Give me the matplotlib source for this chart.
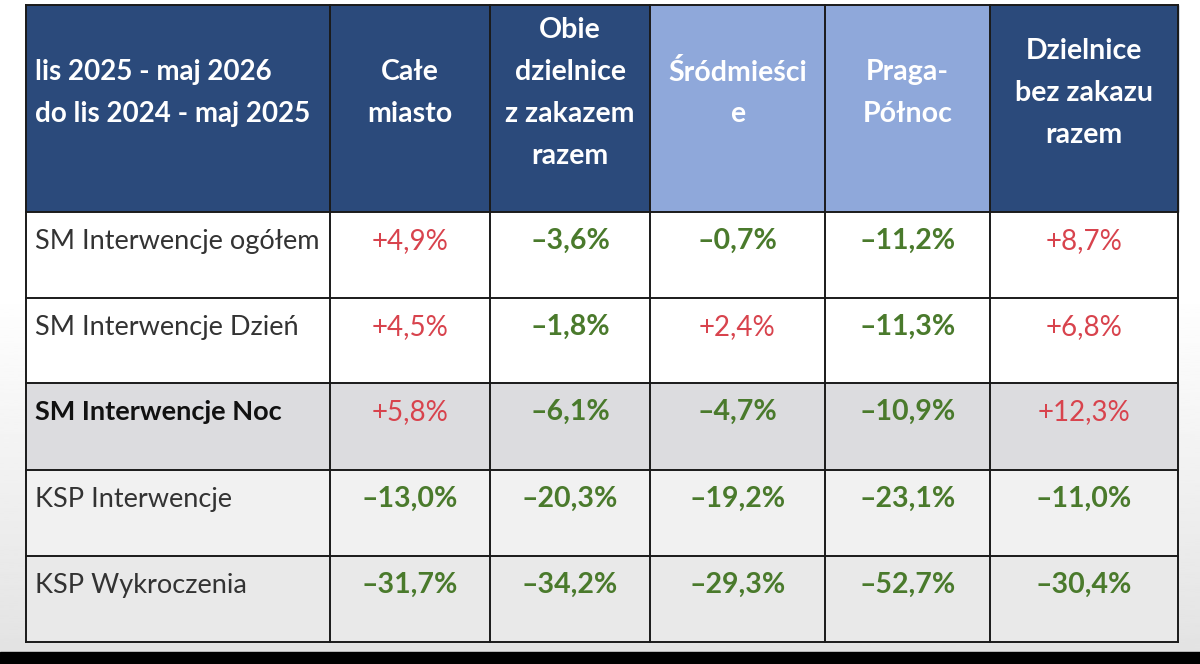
import numpy as np
import matplotlib.pyplot as plt
from matplotlib.patches import Rectangle

# table content
corner = "lis 2025 - maj 2026\ndo lis 2024 - maj 2025"
columns = ["Całe\nmiasto", "Obie\ndzielnice\nz zakazem\nrazem", "Śródmieści\ne",
           "Praga-\nPółnoc", "Dzielnice\nbez zakazu\nrazem"]
highlight_cols = [False, False, True, True, False]
row_labels = ["SM Interwencje ogółem", "SM Interwencje Dzień", "SM Interwencje Noc",
              "KSP Interwencje", "KSP Wykroczenia"]
values = [
    [4.9, -3.6, -0.7, -11.2, 8.7],
    [4.5, -1.8, 2.4, -11.3, 6.8],
    [5.8, -6.1, -4.7, -10.9, 12.3],
    [-13.0, -20.3, -19.2, -23.1, -11.0],
    [-31.7, -34.2, -29.3, -52.7, -30.4],
]
bold_row = 2

# layout (pixels)
W, H = 1200, 664
col_edges = [26, 330, 490, 650, 825, 990, 1178]
row_edges = [5, 212, 298, 383, 470, 556, 642]
row_bg = ["white", "white", "white", "#dcdcdf", "#f1f1f1", "#e9e9e9"]

NAVY = "#2b4a7b"
LIGHT = "#8fa8da"
RED = "#d8434d"
GREEN = "#4a7a2c"
FS = 19.5

plt.rcParams['font.family'] = ['Lato', 'DejaVu Sans']

fig = plt.figure(figsize=(12, 6.64), dpi=100)
ax = fig.add_axes([0, 0, 1, 1])
ax.set_xlim(0, W)
ax.set_ylim(H, 0)
ax.axis("off")

# soft background, white at top fading to light grey
grad = np.linspace(0, 1, 256).reshape(-1, 1)
grad = np.clip((grad - 0.45) / 0.55, 0, 1)
ax.imshow(1 - 0.11 * grad, cmap="gray", vmin=0, vmax=1, aspect="auto",
          extent=(0, W, 652, 0), zorder=0)
ax.add_patch(Rectangle((0, 652), W, H - 652, color="black", zorder=1))

# header cells
ax.add_patch(Rectangle((col_edges[0], row_edges[0]), col_edges[1] - col_edges[0],
                       row_edges[1] - row_edges[0], color=NAVY, zorder=2))
for j, hl in enumerate(highlight_cols):
    x0, x1 = col_edges[j + 1], col_edges[j + 2]
    ax.add_patch(Rectangle((x0, row_edges[0]), x1 - x0, row_edges[1] - row_edges[0],
                           color=LIGHT if hl else NAVY, zorder=2))

# body rows
for i in range(len(row_labels)):
    y0, y1 = row_edges[i + 1], row_edges[i + 2]
    ax.add_patch(Rectangle((col_edges[0], y0), col_edges[-1] - col_edges[0], y1 - y0,
                           color=row_bg[i + 1], zorder=2))

# grid lines
for x in col_edges:
    ax.plot([x, x], [row_edges[0], row_edges[-1]], color="#1a1a1a", lw=1.4, zorder=4)
for y in row_edges:
    ax.plot([col_edges[0], col_edges[-1]], [y, y], color="#1a1a1a", lw=1.4, zorder=4)

head_y = 93
ax.text(35, head_y, corner, color="white", fontsize=20, fontweight="bold",
        ha="left", va="center", linespacing=1.8, zorder=5)
for j, name in enumerate(columns):
    cx = (col_edges[j + 1] + col_edges[j + 2]) / 2
    ax.text(cx, head_y, name, color="white", fontsize=20.5, fontweight="bold",
            ha="center", va="center", linespacing=1.75, zorder=5)

for i, label in enumerate(row_labels):
    ty = row_edges[i + 1] + 29
    if i == bold_row:
        ax.text(35, ty, label, color="#111111", fontsize=FS, fontweight="bold",
                ha="left", va="center", zorder=5)
    else:
        ax.text(35, ty, label, color="#333333", fontsize=FS,
                ha="left", va="center", zorder=5)
    for j, v in enumerate(values[i]):
        cx = (col_edges[j + 1] + col_edges[j + 2]) / 2
        txt = f"{v:+.1f}%".replace(".", ",").replace("-", "\u2013")
        if v > 0:
            ax.text(cx, ty, txt, color=RED, fontsize=20,
                    ha="center", va="center", zorder=5)
        else:
            ax.text(cx, ty, txt, color=GREEN, fontsize=20.5, fontweight="bold",
                    ha="center", va="center", zorder=5)

fig.savefig("out.png", dpi=100)
